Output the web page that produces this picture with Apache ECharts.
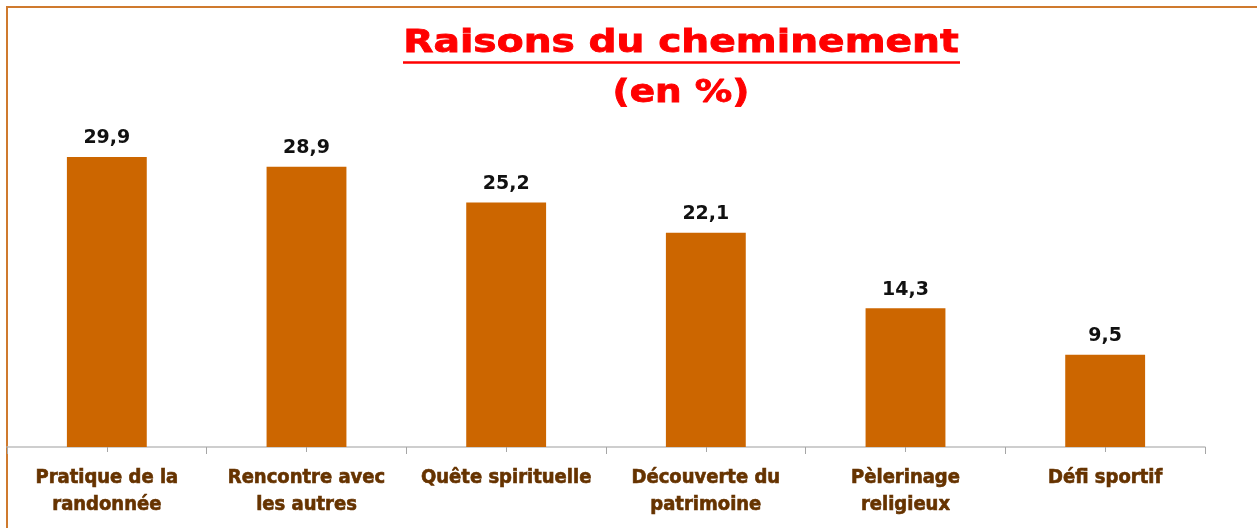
<!DOCTYPE html>
<html><head><meta charset="utf-8">
<script src="https://cdn.jsdelivr.net/npm/echarts@6/dist/echarts.min.js"></script>
<style>html,body{margin:0;padding:0;background:#fff}#c{width:1257px;height:528px}</style>
</head><body><div id="c"></div>
<script>
const categories = ['Pratique de la\nrandonnée', 'Rencontre avec\nles autres', 'Quête spirituelle', 'Découverte du\npatrimoine', 'Pèlerinage\nreligieux', 'Défi sportif'];
const values = [29.9, 28.9, 25.2, 22.1, 14.3, 9.5];
const titleText = 'Raisons du cheminement';
const subtitleText = '(en %)';

const chart = echarts.init(document.getElementById('c'));
const titleStyle = {fill: '#ff0000', stroke: '#ff0000', lineWidth: 0.8, fontFamily: 'DejaVu Sans', fontWeight: 'bold', fontSize: 32, align: 'center', verticalAlign: 'middle'};
chart.setOption({
  animation: false,
  backgroundColor: '#fff',
  graphic: [
    {type: 'rect', shape: {x: 7, y: 7, width: 1400, height: 700}, style: {fill: 'none', stroke: '#cf7a2e', lineWidth: 2}, silent: true},
    {type: 'text', x: 681, y: 44, scaleX: 1.225, style: Object.assign({text: titleText}, titleStyle), silent: true},
    {type: 'text', x: 681, y: 94, scaleX: 1.17, style: Object.assign({text: subtitleText}, titleStyle), silent: true},
    {type: 'line', shape: {x1: 403, y1: 62.5, x2: 960, y2: 62.5}, style: {stroke: '#ff0000', lineWidth: 2.5}, silent: true}
  ],
  grid: {left: 7, right: 52, top: 107.5, bottom: 81, containLabel: false},
  xAxis: [{
    type: 'category', data: categories,
    axisLine: {lineStyle: {color: '#bfbfbf', width: 1.5}},
    axisTick: {show: true, length: 7, lineStyle: {color: '#a6a6a6'}},
    axisLabel: {margin: 17, interval: 0, color: '#663300', textBorderColor: '#663300', textBorderWidth: 0.6,
      fontFamily: 'DejaVu Sans Condensed', fontWeight: 'bold', fontSize: 20, lineHeight: 27.5}
  }, {
    type: 'category', data: categories, position: 'bottom',
    axisLine: {show: false},
    axisTick: {show: true, alignWithLabel: true, length: 5, lineStyle: {color: '#a6a6a6'}},
    axisLabel: {show: false}
  }],
  yAxis: {type: 'value', min: 0, max: 35, show: false, splitLine: {show: false}},
  series: [{
    type: 'bar', data: values, barWidth: '40%', xAxisIndex: 0,
    itemStyle: {color: '#cc6600'},
    label: {show: true, position: 'top', distance: 9, color: '#111', fontFamily: 'DejaVu Sans', fontWeight: 'bold', fontSize: 19,
      formatter: p => String(p.value).replace('.', ',')}
  }]
});
</script></body></html>
